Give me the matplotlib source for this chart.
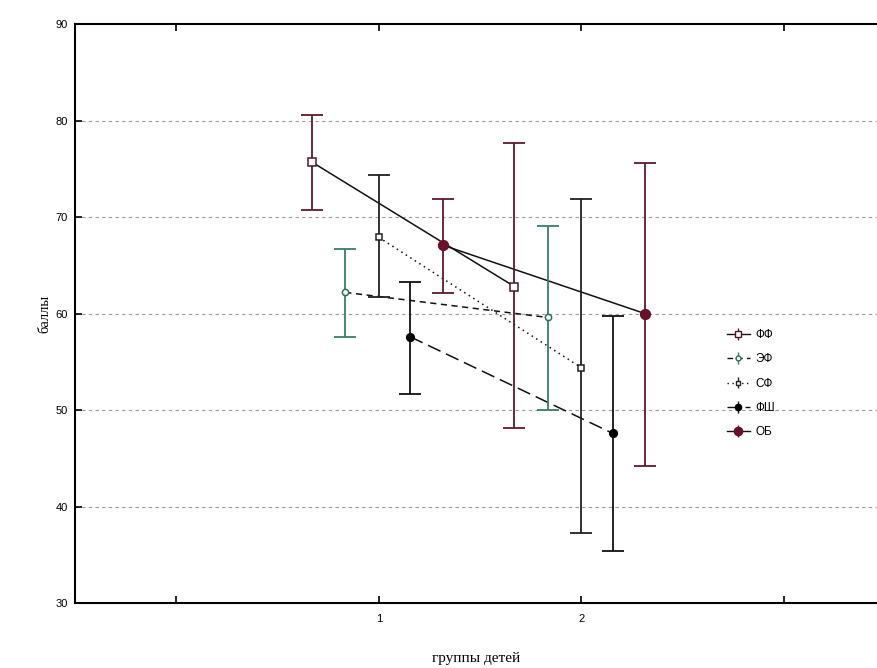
import matplotlib
matplotlib.use("Agg")
import matplotlib.pyplot as plt
import numpy as np

# groups on x axis
groups = [1, 2]
series = ["ФФ", "ЭФ", "СФ", "ФШ", "ОБ"]

# means and confidence bounds per series, one value per group
ff_mean = [75.7, 62.8]
ff_low = [70.7, 48.1]
ff_high = [80.6, 77.7]

ef_mean = [62.2, 59.6]
ef_low = [57.6, 50.0]
ef_high = [66.7, 69.1]

sf_mean = [67.9, 54.4]
sf_low = [61.7, 37.3]
sf_high = [74.4, 71.9]

fsh_mean = [57.6, 47.6]
fsh_low = [51.7, 35.4]
fsh_high = [63.3, 59.8]

ob_mean = [67.1, 60.0]
ob_low = [62.1, 44.2]
ob_high = [71.9, 75.6]

# styling: horizontal offset, line style, marker, face, marker edge, bar colour
styles = {
    "ФФ": dict(off=-0.33, ls="-", marker="s", mfc="white", mec="#4a1a26", ecol="#5a1a2c", ms=6),
    "ЭФ": dict(off=-0.165, ls=(0, (4, 3)), marker="o", mfc="white", mec="#2f6e5c", ecol="#3b7d68", ms=4.5),
    "СФ": dict(off=0.0, ls=(0, (1, 2.5)), marker="s", mfc="white", mec="#222222", ecol="#222222", ms=4.5),
    "ФШ": dict(off=0.155, ls=(0, (9, 4)), marker="o", mfc="black", mec="black", ecol="#111111", ms=5.5),
    "ОБ": dict(off=0.315, ls="-", marker="o", mfc="#6b0f2a", mec="#6b0f2a", ecol="#5a1a2c", ms=7),
}

data = {
    "ФФ": (ff_mean, ff_low, ff_high),
    "ЭФ": (ef_mean, ef_low, ef_high),
    "СФ": (sf_mean, sf_low, sf_high),
    "ФШ": (fsh_mean, fsh_low, fsh_high),
    "ОБ": (ob_mean, ob_low, ob_high),
}

fig = plt.figure(figsize=(8.77, 6.68), dpi=100)
ax = fig.add_axes([0.0855, 0.097, 0.9145, 0.867])

for y in [40, 50, 60, 70, 80]:
    ax.axhline(y, color="#9a9a9a", lw=0.8, ls=(0, (3, 3)), zorder=0)

handles = []
for name in series:
    st = styles[name]
    mean, low, high = (np.array(v) for v in data[name])
    xs = np.array(groups) + st["off"]
    ax.plot(xs, mean, color="#111111", lw=1.1, ls=st["ls"], zorder=2)
    ax.errorbar(xs, mean, yerr=[mean - low, high - mean], fmt="none",
                ecolor=st["ecol"], elinewidth=1.3, capsize=8, capthick=1.3, zorder=3)
    ax.plot(xs, mean, ls="none", marker=st["marker"], ms=st["ms"],
            mfc=st["mfc"], mec=st["mec"], mew=1.1, zorder=4)
    handles.append(ax.errorbar([], [], yerr=[], color="#111111", ls=st["ls"], lw=1,
                               marker=st["marker"], ms=st["ms"] - 1, mfc=st["mfc"],
                               mec=st["mec"], ecolor=st["ecol"], capsize=5))

ax.set_xlim(-0.5, 3.46)
ax.set_ylim(30, 90)
ax.set_xticks([0, 1, 2, 3])
ax.set_xticklabels(["", "1", "2", ""])
ax.set_yticks(range(30, 91, 10))
ax.tick_params(direction="in", top=True, length=5, width=1.2,
               labelsize=8, labelfontfamily="Liberation Sans", pad=8)
ax.tick_params(axis="y", pad=5)
for s in ["left", "bottom", "top"]:
    ax.spines[s].set_linewidth(1.5)
ax.spines["right"].set_visible(False)

ax.set_xlabel("группы детей", fontsize=11, family="Liberation Serif", labelpad=20)
ax.set_ylabel("баллы", fontsize=10.5, family="Liberation Serif", labelpad=3)

leg = ax.legend(handles, series, loc="upper left", bbox_to_anchor=(0.8, 0.492),
                frameon=False, handlelength=1.9, labelspacing=1.05,
                handletextpad=0.5, prop={"family": "Liberation Sans", "size": 8.5})

fig.savefig("out.png", dpi=100)
